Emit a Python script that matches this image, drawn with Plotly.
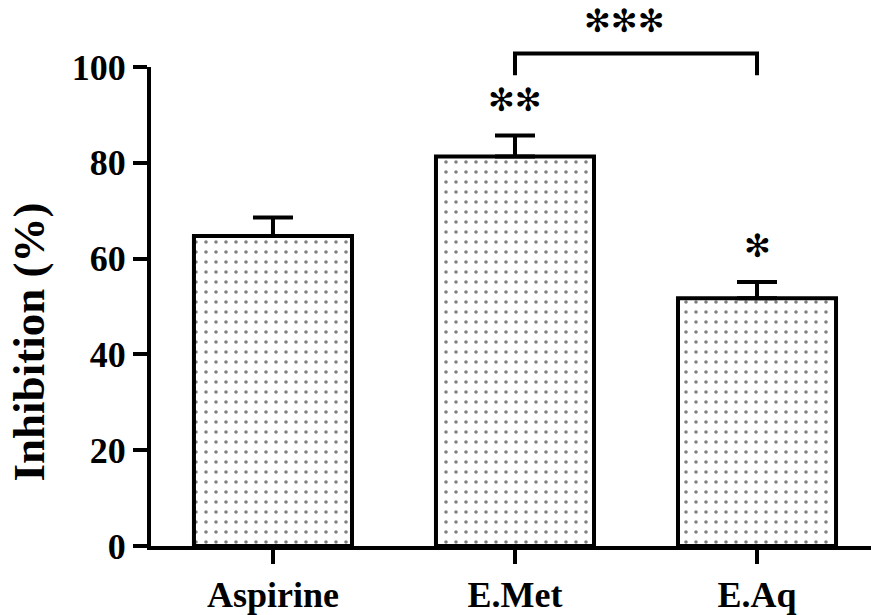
import plotly.graph_objects as go

categories = ["Aspirine", "E.Met", "E.Aq"]
inhibition = [64.7, 81.3, 51.7]
sem = [3.9, 4.4, 3.4]
y_ticks = [0, 20, 40, 60, 80, 100]
bar_stars = ["", "✻✻", "✻"]
bracket_stars = "✻✻✻"

FONT = "Liberation Serif"
xpos = list(range(len(categories)))

fig = go.Figure()
fig.add_trace(go.Bar(
    x=xpos, y=inhibition, width=0.653,
    marker=dict(color="white", line=dict(color="black", width=4),
                pattern=dict(shape=".", fgcolor="black", bgcolor="white",
                             size=10, solidity=0.1)),
    error_y=dict(type="data", symmetric=False, array=sem,
                 arrayminus=[0] * len(sem), color="black",
                 thickness=4, width=20),
    showlegend=False,
))

# bracket between E.Met and E.Aq (x in data units, y in paper units)
shapes = [dict(type="path", xref="x", yref="paper",
               path="M 1,0.983 L 1,1.028 L 2,1.028 L 2,0.983",
               line=dict(color="black", width=4))]

ymax = 100.0
star_font = dict(family="DejaVu Sans", size=32, color="black")
annotations = []
for i, s in enumerate(bar_stars):
    if s:
        y0 = inhibition[i] + sem[i]
        annotations.append(dict(x=xpos[i], y=(y0 + 7.5) / ymax,
                                xref="x", yref="paper", text=s, showarrow=False,
                                xanchor="center", yanchor="middle", font=star_font))
annotations.append(dict(x=1.45, y=1.097, xref="x", yref="paper", text=bracket_stars,
                        showarrow=False, xanchor="center", yanchor="middle",
                        font=star_font))
annotations.append(dict(x=-0.1694, y=0.425, xref="paper", yref="paper",
                        text="<b>Inhibition (%)</b>", textangle=-90, showarrow=False,
                        xanchor="center", yanchor="middle",
                        font=dict(family=FONT, size=45, color="black")))

fig.update_layout(
    width=871, height=615,
    margin=dict(l=151, r=0, t=67, b=64),
    plot_bgcolor="white", paper_bgcolor="white",
    annotations=annotations, shapes=shapes,
    xaxis=dict(range=[-0.504, 2.471], tickmode="array", tickvals=xpos,
               ticktext=[f"<b>{c}</b>" for c in categories],
               showline=True, linecolor="black", linewidth=4,
               ticks="outside", ticklen=14, tickwidth=4, tickcolor="black",
               showgrid=False, zeroline=False,
               tickfont=dict(family=FONT, size=36, color="black")),
    yaxis=dict(range=[0, 100], tickmode="array", tickvals=y_ticks,
               ticktext=[f"<b>{v}</b>" for v in y_ticks],
               showline=True, linecolor="black", linewidth=4,
               ticks="outside", ticklen=14, tickwidth=4, tickcolor="black",
               showgrid=False, zeroline=False,
               tickfont=dict(family=FONT, size=36, color="black")),
)

fig.write_html("out.html")
